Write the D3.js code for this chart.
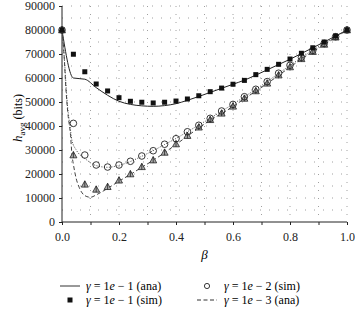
<!DOCTYPE html>
<html>
<head>
<meta charset="utf-8">
<script src="https://cdn.jsdelivr.net/npm/d3@7"></script>
<style>
  body { margin: 0; background: #fff; }
  svg text { font-family: "Liberation Serif", "DejaVu Serif", serif; }
</style>
</head>
<body>
<div id="chart"></div>
<script>
// simulated points (every 0.04)
const betaSim = [0, 0.04, 0.08, 0.12, 0.16, 0.2, 0.24, 0.28, 0.32, 0.36, 0.4, 0.44, 0.48,
  0.52, 0.56, 0.6, 0.64, 0.68, 0.72, 0.76, 0.8, 0.84, 0.88, 0.92, 0.96, 1.0];
const sim1 = [80000, 69900, 62600, 57500, 54600, 51800, 50300, 49900, 49600, 49900, 50400, 51250, 52600,
  54300, 55800, 57400, 59000, 61400, 63600, 65700, 67900, 70300, 72600, 75000, 77500, 80000];
const sim2 = [80000, 41100, 27900, 23750, 22900, 23750, 25300, 27500, 29700, 32400, 34700, 37600, 40300,
  43200, 46250, 49000, 52200, 55300, 58500, 62000, 65300, 68600, 71500, 74400, 77200, 80000];
const sim3 = [80000, 27900, 15700, 13600, 14700, 17400, 20000, 23000, 25800, 29000, 32500, 36000, 39500,
  42600, 45300, 48200, 51500, 54600, 57800, 61200, 64600, 68000, 71000, 74000, 77000, 80000];

// analytical curves
const betaAna1 = betaSim;
const ana1 = [80000, 60000, 59500, 56000, 52800, 50300, 49000, 48400, 48200, 48500, 49300, 50700, 52300,
  54000, 55700, 57400, 59100, 61200, 63400, 65600, 67800, 70200, 72600, 75000, 77500, 80000];

const betaAna2 = [0, 0.01, 0.0175, 0.028, 0.035, 0.05, 0.08, 0.12, 0.16, 0.2, 0.24, 0.28, 0.32, 0.36, 0.4,
  0.44, 0.48, 0.52, 0.56, 0.6, 0.64, 0.68, 0.72, 0.76, 0.8, 0.84, 0.88, 0.92, 0.96, 1.0];
const ana2 = [80000, 65000, 51000, 40000, 34000, 30000, 26500, 23500, 22800, 23600, 25200, 27400, 29700, 32300, 34800,
  37600, 40400, 43200, 46200, 49100, 52200, 55300, 58500, 61900, 65200, 68500, 71500, 74400, 77200, 80000];

const betaAna3 = [0, 0.007, 0.014, 0.02, 0.03, 0.035, 0.04, 0.05, 0.06, 0.08, 0.1, 0.12, 0.16, 0.2, 0.24, 0.28,
  0.32, 0.36, 0.4, 0.44, 0.48, 0.52, 0.56, 0.6, 0.64, 0.68, 0.72, 0.76, 0.8, 0.84, 0.88, 0.92, 0.96, 1.0];
const ana3 = [80000, 70000, 55000, 46000, 36000, 28000, 24000, 18000, 14500, 11000, 10300, 11300, 14000, 17000, 19800, 22800,
  25700, 28900, 32300, 35800, 39200, 42400, 45200, 48100, 51400, 54500, 57700, 61100, 64500, 67900, 70900, 73900, 76900, 80000];

const xTicks = [0, 0.2, 0.4, 0.6, 0.8, 1.0];
const yTicks = [0, 10000, 20000, 30000, 40000, 50000, 60000, 70000, 80000, 90000];

const W = 355, H = 309;
const margin = { top: 6, right: 8, bottom: 87, left: 62 };
const width = W - margin.left - margin.right;
const height = H - margin.top - margin.bottom;
const serif = "Liberation Serif";

const svg = d3.select("#chart").append("svg")
    .attr("width", W)
    .attr("height", H)
    .attr("font-family", serif);

const g = svg.append("g")
    .attr("transform", "translate(" + margin.left + "," + margin.top + ")");

const x = d3.scaleLinear().domain([0, 1]).range([0, width]);
const y = d3.scaleLinear().domain([0, 90000]).range([height, 0]);

// dotted grid
g.append("g").selectAll("line")
    .data(d3.range(0.1, 1.01, 0.1))
    .enter().append("line")
    .attr("x1", d => x(d)).attr("x2", d => x(d))
    .attr("y1", 0).attr("y2", height)
    .attr("stroke", "#888").attr("stroke-width", 0.8)
    .attr("stroke-dasharray", "1,7");
g.append("g").selectAll("line")
    .data(d3.range(5000, 90001, 5000))
    .enter().append("line")
    .attr("x1", 0).attr("x2", width)
    .attr("y1", d => y(d)).attr("y2", d => y(d))
    .attr("stroke", "#888").attr("stroke-width", 0.8)
    .attr("stroke-dasharray", "1,8");

// axes
const xAxis = g.append("g")
    .attr("transform", "translate(0," + height + ")")
    .attr("font-family", serif)
    .call(d3.axisBottom(x).tickValues(d3.range(0, 1.01, 0.1)).tickSize(3)
      .tickFormat(d => xTicks.some(t => Math.abs(t - d) < 1e-6) ? d3.format(".1f")(d) : ""));
xAxis.attr("font-family", serif);
xAxis.select(".domain").attr("d", "M0,0H" + width);
xAxis.selectAll("text").attr("font-size", 12).attr("dy", "1.1em").attr("fill", "#222");

const yAxis = g.append("g")
    .call(d3.axisLeft(y).tickValues(yTicks).tickSize(3).tickFormat(d3.format("d")));
yAxis.attr("font-family", serif);
yAxis.select(".domain").attr("d", "M0," + height + "V0");
yAxis.selectAll("text").attr("font-size", 12).attr("x", -7).attr("fill", "#222");
g.selectAll(".domain, .tick line").attr("stroke", "#222");

// axis titles
svg.append("text")
    .attr("x", margin.left + width / 2).attr("y", 259)
    .attr("text-anchor", "middle").attr("font-size", 13).attr("font-style", "italic")
    .text("β");

const yl = svg.append("text")
    .attr("transform", "translate(22,118) rotate(-90)")
    .attr("text-anchor", "middle").attr("font-size", 12);
yl.append("tspan").attr("font-style", "italic").attr("font-size", 13).text("h");
yl.append("tspan").attr("font-size", 9).attr("dy", 3).text("avg");
yl.append("tspan").attr("dy", -3).text(" (bits)");

// lines
const line = d3.line().x(d => x(d[0])).y(d => y(d[1])).curve(d3.curveMonotoneX);
const zip = (a, b) => a.map((v, i) => [v, b[i]]);

g.append("path").datum(zip(betaAna1, ana1)).attr("d", line)
    .attr("fill", "none").attr("stroke", "#222").attr("stroke-width", 1);
g.append("path").datum(zip(betaAna2, ana2)).attr("d", line)
    .attr("fill", "none").attr("stroke", "#444").attr("stroke-width", 1)
    .attr("stroke-dasharray", "1,1.5");
g.append("path").datum(zip(betaAna3, ana3)).attr("d", line)
    .attr("fill", "none").attr("stroke", "#444").attr("stroke-width", 1)
    .attr("stroke-dasharray", "4,2.5");

// markers
function triangle(sel) {
  sel.append("path").attr("d", "M0,-3.5L3.5,2.8L-3.5,2.8Z")
      .attr("fill", "#aaa").attr("stroke", "#222").attr("stroke-width", 0.8);
  sel.append("line").attr("x1", 0).attr("x2", 0).attr("y1", -3.5).attr("y2", 2.8)
      .attr("stroke", "#222").attr("stroke-width", 0.8);
}

g.append("g").selectAll("g")
    .data(zip(betaSim, sim3)).enter().append("g")
    .attr("transform", d => "translate(" + x(d[0]) + "," + y(d[1]) + ")")
    .call(triangle);

g.append("g").selectAll("circle")
    .data(zip(betaSim, sim2)).enter().append("circle")
    .attr("cx", d => x(d[0])).attr("cy", d => y(d[1])).attr("r", 3.3)
    .attr("fill", "none").attr("stroke", "#222").attr("stroke-width", 0.9);

g.append("g").selectAll("rect")
    .data(zip(betaSim, sim1)).enter().append("rect")
    .attr("x", d => x(d[0]) - 2.5).attr("y", d => y(d[1]) - 2.5)
    .attr("width", 5).attr("height", 5).attr("fill", "#111");

// legend
const legendItems = [
  { col: 0, row: 0, kind: "solid", g: "1", t: "ana" },
  { col: 0, row: 1, kind: "square", g: "1", t: "sim" },
  { col: 0, row: 2, kind: "dotted", g: "2", t: "ana" },
  { col: 1, row: 0, kind: "circle", g: "2", t: "sim" },
  { col: 1, row: 1, kind: "dashed", g: "3", t: "ana" },
  { col: 1, row: 2, kind: "triangle", g: "3", t: "sim" }
];
const leg = svg.append("g");
legendItems.forEach(d => {
  const lx = d.col === 0 ? 60 : 197;
  const ly = 286 + d.row * 14;
  const item = leg.append("g").attr("transform", "translate(" + lx + "," + ly + ")");
  if (d.kind === "solid" || d.kind === "dotted" || d.kind === "dashed") {
    item.append("line").attr("x1", 0).attr("x2", 20).attr("y1", 0).attr("y2", 0)
        .attr("stroke", "#333").attr("stroke-width", 1)
        .attr("stroke-dasharray", d.kind === "dotted" ? "1,1.5" : d.kind === "dashed" ? "4,2.5" : null);
  } else if (d.kind === "square") {
    item.append("rect").attr("x", 7.5).attr("y", -2.5).attr("width", 5).attr("height", 5).attr("fill", "#111");
  } else if (d.kind === "circle") {
    item.append("circle").attr("cx", 10).attr("cy", 0).attr("r", 2.6)
        .attr("fill", "none").attr("stroke", "#222").attr("stroke-width", 0.9);
  } else {
    item.append("g").attr("transform", "translate(10,0)").call(triangle);
  }
  const tx = item.append("text").attr("x", d.col === 0 ? 26 : 27).attr("y", 4).attr("font-size", 12);
  tx.append("tspan").attr("font-style", "italic").text("γ");
  tx.append("tspan").text(" = 1");
  tx.append("tspan").attr("font-style", "italic").text("e");
  tx.append("tspan").text(" − " + d.g + " (" + d.t + ")");
});
</script>
</body>
</html>
